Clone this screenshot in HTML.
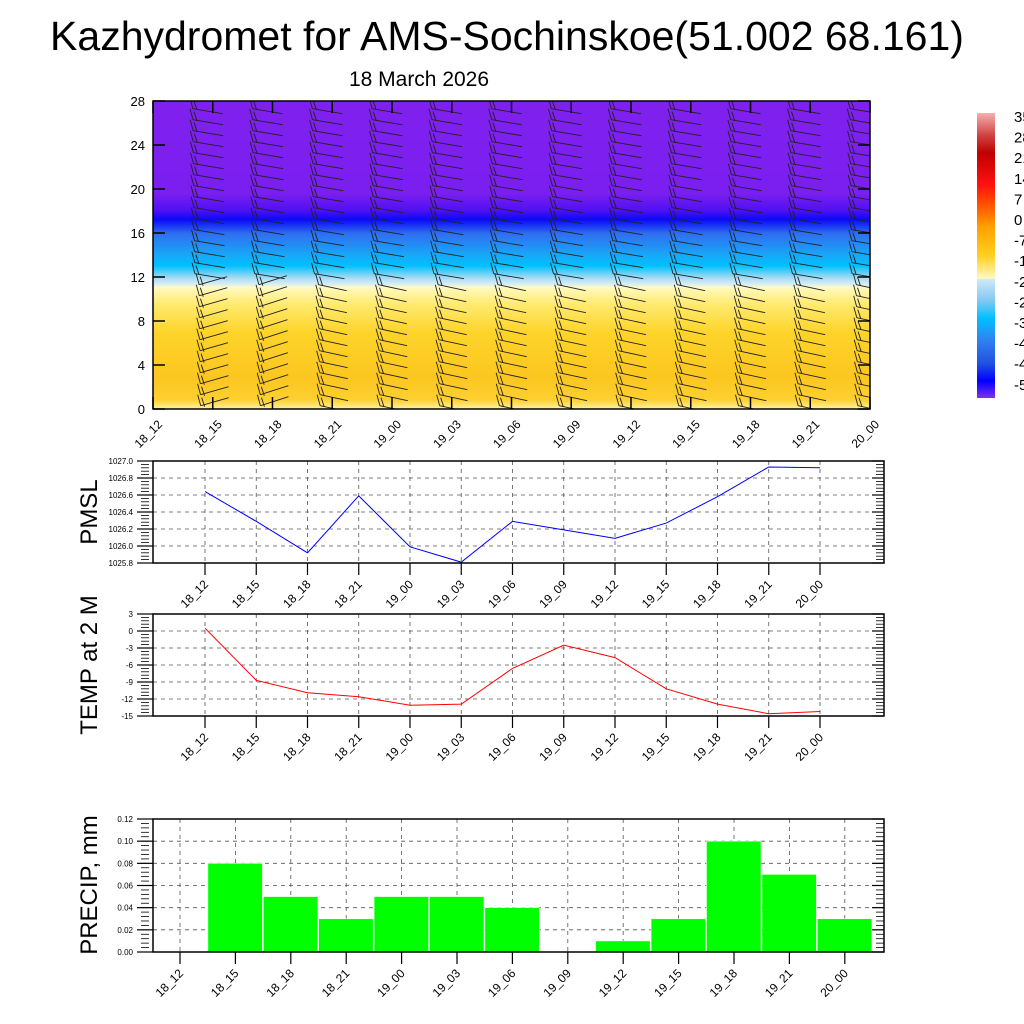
<!DOCTYPE html>
<html><head><meta charset="utf-8"><style>
html,body{margin:0;padding:0;background:#fff;overflow:hidden;}
svg{display:block;font-family:"Liberation Sans",Arial,sans-serif;}
</style></head><body>
<svg id="chart" width="1024" height="1024" viewBox="0 0 1024 1024" xmlns="http://www.w3.org/2000/svg">
<defs>
<clipPath id="xclip"><rect x="153" y="101" width="717" height="308"/></clipPath>
<linearGradient id="cross" x1="0" y1="0" x2="0" y2="1">
<stop offset="0" stop-color="#8020ee"/>
<stop offset="0.30" stop-color="#7a1ff0"/>
<stop offset="0.355" stop-color="#5010f2"/>
<stop offset="0.385" stop-color="#0a0af8"/>
<stop offset="0.43" stop-color="#2f6ef0"/>
<stop offset="0.50" stop-color="#18a8f8"/>
<stop offset="0.535" stop-color="#00c0ff"/>
<stop offset="0.575" stop-color="#a8dcf4"/>
<stop offset="0.595" stop-color="#d8eef4"/>
<stop offset="0.605" stop-color="#fffac0"/>
<stop offset="0.66" stop-color="#ffea70"/>
<stop offset="0.75" stop-color="#fdd42a"/>
<stop offset="0.90" stop-color="#fcc620"/>
<stop offset="0.97" stop-color="#fdd030"/>
<stop offset="1" stop-color="#fff2a0"/>
</linearGradient>
<linearGradient id="cbar" x1="0" y1="0" x2="0" y2="1">
<stop offset="0" stop-color="#f4b0b0"/>
<stop offset="0.08" stop-color="#d04040"/>
<stop offset="0.14" stop-color="#c00000"/>
<stop offset="0.25" stop-color="#ff1010"/>
<stop offset="0.32" stop-color="#ff5000"/>
<stop offset="0.40" stop-color="#ffa000"/>
<stop offset="0.50" stop-color="#ffd020"/>
<stop offset="0.58" stop-color="#fff8c0"/>
<stop offset="0.585" stop-color="#cce8f6"/>
<stop offset="0.66" stop-color="#80c8f0"/>
<stop offset="0.72" stop-color="#00c0ff"/>
<stop offset="0.80" stop-color="#3080f0"/>
<stop offset="0.88" stop-color="#2050e0"/>
<stop offset="0.94" stop-color="#0000ff"/>
<stop offset="1" stop-color="#8030f0"/>
</linearGradient>
</defs>
<text x="507" y="50" font-size="41" text-anchor="middle">Kazhydromet for AMS-Sochinskoe(51.002 68.161)</text>
<text x="419" y="86" font-size="21" text-anchor="middle">18 March 2026</text>
<g id="g"></g>
</svg>
<script>
const times = ["18_12","18_15","18_18","18_21","19_00","19_03","19_06","19_09","19_12","19_15","19_18","19_21","20_00"];
const pmsl = [1026.64,1026.29,1025.92,1026.59,1025.99,1025.81,1026.29,1026.19,1026.09,1026.27,1026.58,1026.93,1026.92];
const temp2m = [0.5,-8.7,-10.9,-11.6,-13.1,-12.9,-6.6,-2.5,-4.7,-10.2,-12.9,-14.6,-14.2];
const precip = [0,0.08,0.05,0.03,0.05,0.05,0.04,0,0.01,0.03,0.10,0.07,0.03];
const heightTicks = [0,4,8,12,16,20,24,28];
const pmslTicks = [1025.8,1026.0,1026.2,1026.4,1026.6,1026.8,1027.0];
const tempTicks = [-15,-12,-9,-6,-3,0,3];
const precipTicks = [0,0.02,0.04,0.06,0.08,0.10,0.12];
const cbarLabels = ["35","28","21","14","7","0","-7","-14","-21","-28","-35","-42","-49","-56"];
const windLowSlope = [6,-8,-9,6,6,6,6,6,6,6,6,6,6];

const NS="http://www.w3.org/2000/svg";
const G=document.getElementById('g');
function mk(tag,attrs,parent){const e=document.createElementNS(NS,tag);for(const k in attrs)e.setAttribute(k,attrs[k]);(parent||G).appendChild(e);return e;}

const cx0=153,cx1=870,cy0=101,cy1=409;
const hx=i=>cx0+(cx1-cx0)*i/(times.length-1);
const hy=v=>cy1-(cy1-cy0)*v/28;
let e=mk('rect',{x:cx0,y:cy0,width:cx1-cx0,height:cy1-cy0,fill:'url(#cross)'});


const barbs=mk('g',{stroke:'#222','stroke-width':0.9,fill:'none','clip-path':'url(#xclip)'});


for(let i=0;i<times.length;i++){
  const x=hx(i);
  for(let k=0;k<=27;k++){
    const h=k*1.0+0.3;
    const y=hy(h);
    const low=h<11.5;
    const sx=x-(low?12:16)+(h/28)*(-4);
    const dy=low?windLowSlope[i]:5;
    const len=(i===0)?12:(low?28:30);
    mk('line',{x1:sx,y1:y,x2:sx+len,y2:y+dy},barbs);
    mk('line',{x1:sx,y1:y,x2:sx-3,y2:y-11},barbs);
    mk('line',{x1:sx+4,y1:y+1,x2:sx+1,y2:y-8},barbs);
  }
}
e=mk('rect',{x:cx0,y:cy0,width:cx1-cx0,height:cy1-cy0,fill:'none',stroke:'#000','stroke-width':1.5});


heightTicks.forEach(v=>{
  const y=hy(v);
  mk('line',{x1:cx0,y1:y,x2:cx0+12,y2:y,stroke:'#000','stroke-width':1.5});
  mk('line',{x1:cx1,y1:y,x2:cx1-12,y2:y,stroke:'#000','stroke-width':1.5});
  const t=mk('text',{x:cx0-8,y:y+5,'font-size':13,'text-anchor':'end'});t.textContent=v;
  
  
});
times.forEach((s,i)=>{
  const x=hx(i);
  mk('line',{x1:x,y1:cy1,x2:x,y2:cy1-12,stroke:'#000','stroke-width':1.5});
  mk('line',{x1:x,y1:cy0,x2:x,y2:cy0+12,stroke:'#000','stroke-width':1.5});
  const t=mk('text',{x:x+10,y:cy1+16,'font-size':12,'text-anchor':'end',transform:`rotate(-45 ${x+10} ${cy1+16})`});t.textContent=s;
  
  
});
e=mk('rect',{x:977,y:113,width:18,height:285,fill:'url(#cbar)'});


cbarLabels.forEach((l,i)=>{
  const t=mk('text',{x:1014,y:122+i*20.6,'font-size':15});t.textContent=l;
  
  
});

function panel(opts){
  const {x0,x1,y0,y1,min,max,ticks,fmt,xs,name,title,titleY}=opts;
  const py=v=>y1-(y1-y0)*(v-min)/(max-min);
  const grp=mk('g',{});
  
  
  ticks.forEach(v=>{const y=py(v);
    if(v!==min&&v!==max) mk('line',{x1:x0,y1:y,x2:x1,y2:y,stroke:'#555','stroke-width':0.8,'stroke-dasharray':'4,4'},grp);});
  times.forEach((s,i)=>{mk('line',{x1:xs(i),y1:y0,x2:xs(i),y2:y1,stroke:'#555','stroke-width':0.8,'stroke-dasharray':'4,4'},grp);});
  const step=(ticks[1]-ticks[0])/5;
  for(let v=min;v<=max+1e-9;v+=step){const y=py(v);
    mk('line',{x1:x0-12,y1:y,x2:x0-4,y2:y,stroke:'#000','stroke-width':0.8},grp);
    mk('line',{x1:x1,y1:y,x2:x1-8,y2:y,stroke:'#000','stroke-width':0.8},grp);}
  ticks.forEach(v=>{const y=py(v);
    mk('line',{x1:x0-16,y1:y,x2:x0,y2:y,stroke:'#000','stroke-width':1.2},grp);
    mk('line',{x1:x1,y1:y,x2:x1-12,y2:y,stroke:'#000','stroke-width':1.2},grp);
    const t=mk('text',{x:x0-20,y:y+3,'font-size':8,'text-anchor':'end'},grp);t.textContent=fmt(v);
    
    });
  times.forEach((s,i)=>{const x=xs(i);
    mk('line',{x1:x,y1:y1,x2:x,y2:y1+12,stroke:'#000','stroke-width':1.2},grp);
    const t=mk('text',{x:x+4,y:y1+22,'font-size':12,'text-anchor':'end',transform:`rotate(-45 ${x+4} ${y1+22})`},grp);t.textContent=s;
    
    });
  const tt=mk('text',{x:97,y:titleY,'font-size':24,'text-anchor':'middle',transform:`rotate(-90 97 ${titleY})`},grp);tt.textContent=title;
  
  
  return {py,grp,frame:()=>{const f=mk('rect',{x:x0,y:y0,width:x1-x0,height:y1-y0,fill:'none',stroke:'#000','stroke-width':1.5},grp);
    
    }};
}
const lx=i=>205+51.25*i;
let p=panel({x0:153,x1:884,y0:461,y1:563,min:1025.8,max:1027.0,ticks:pmslTicks,fmt:v=>v.toFixed(1),xs:lx,name:'pmsl',title:'PMSL',titleY:512});
e=mk('polyline',{points:pmsl.map((v,i)=>lx(i)+','+p.py(v)).join(' '),fill:'none',stroke:'#0000ff','stroke-width':1},p.grp);


p.frame();
p=panel({x0:153,x1:884,y0:614,y1:716,min:-15,max:3,ticks:tempTicks,fmt:v=>String(v),xs:lx,name:'temp',title:'TEMP at 2 M',titleY:665});
e=mk('polyline',{points:temp2m.map((v,i)=>lx(i)+','+p.py(v)).join(' '),fill:'none',stroke:'#ff0000','stroke-width':1},p.grp);


p.frame();
const bx=i=>180+55.4*i;
p=panel({x0:153,x1:884,y0:819,y1:952,min:0,max:0.12,ticks:precipTicks,fmt:v=>v.toFixed(2),xs:bx,name:'precip',title:'PRECIP, mm',titleY:885});
precip.forEach((v,i)=>{ if(v<=0) return;
  const y=p.py(v);
  const r=mk('rect',{x:bx(i)-27.5,y:y,width:54.5,height:952-y,fill:'#00ff00',stroke:'#e8ffe8','stroke-width':0.6},p.grp);
  
  
});
p.frame();
</script>
</body></html>
